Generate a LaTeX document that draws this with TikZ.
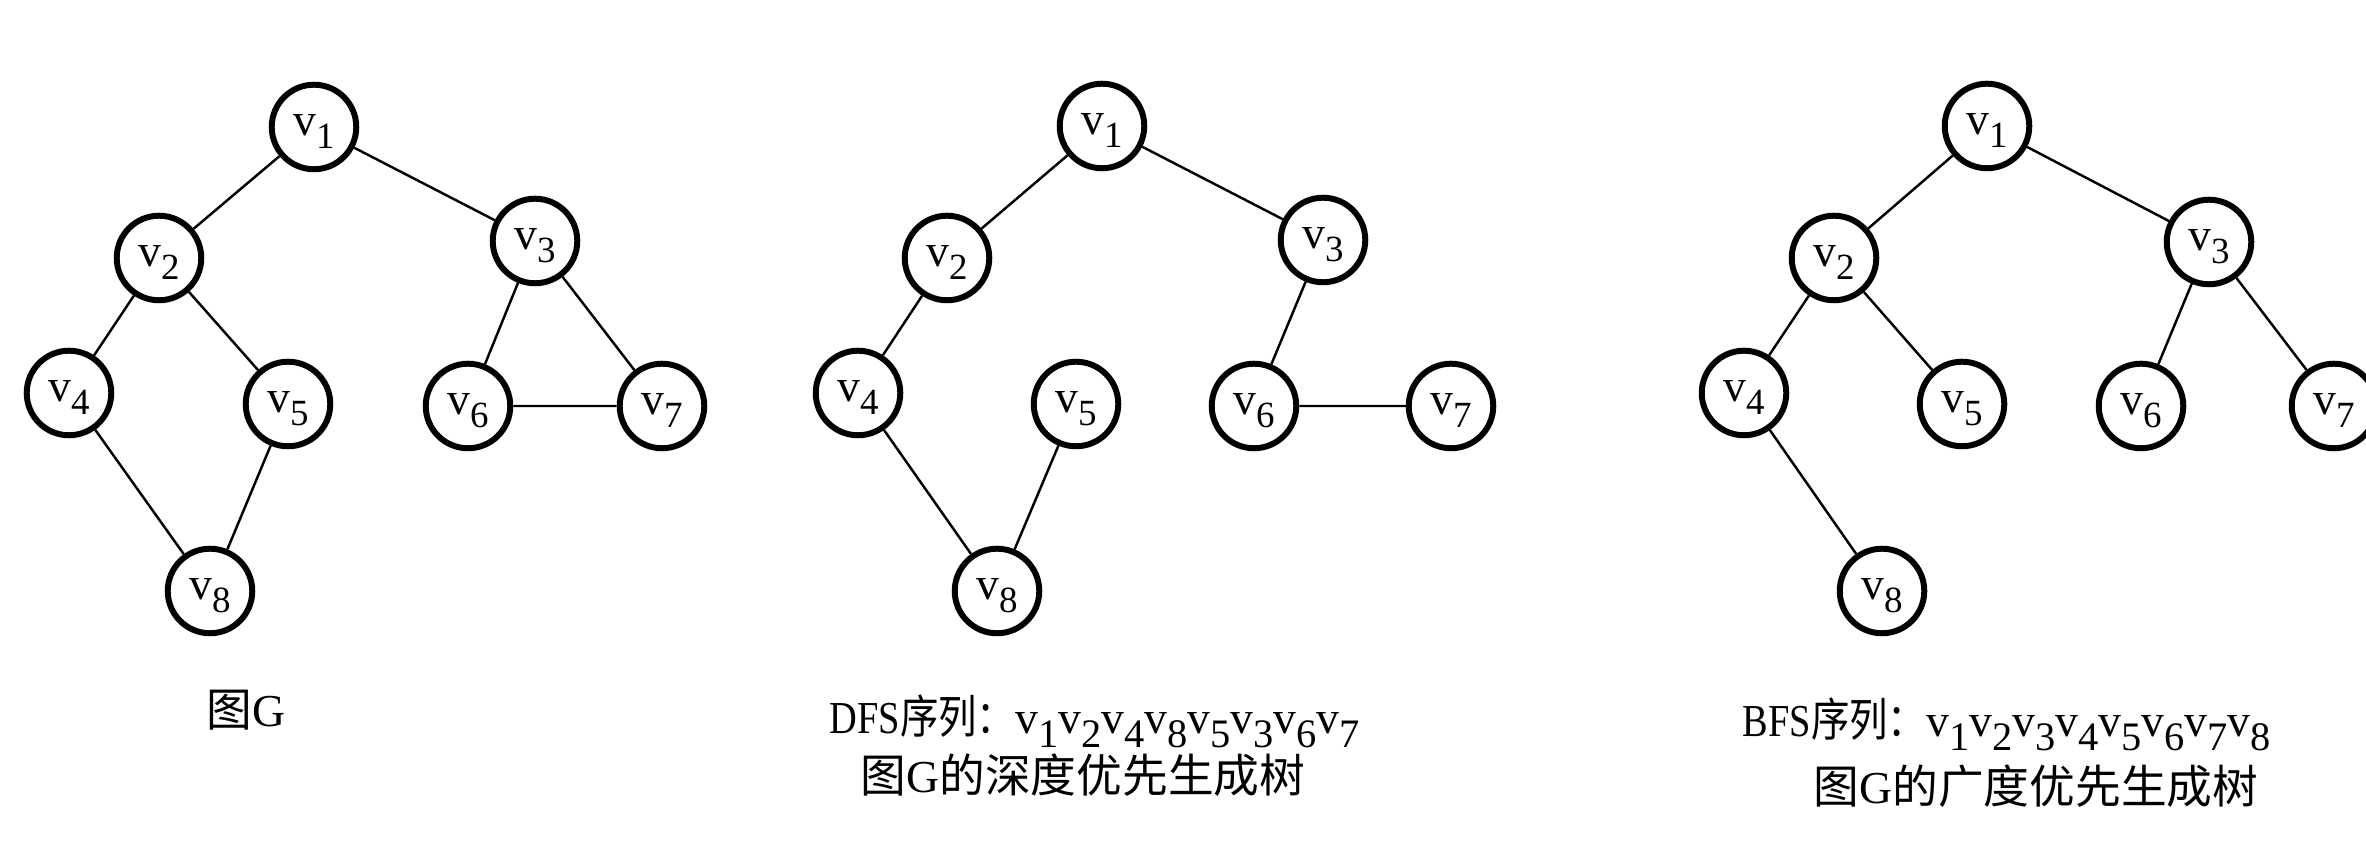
\documentclass[tikz,border=0pt]{standalone}
\usepackage{fontspec}
\setmainfont{Liberation Serif}
\newfontfamily\cjk{Noto Sans CJK SC}
\usetikzlibrary{shapes.geometric}
\newcommand\nv[1]{v\raisebox{-3.9pt}{\fontsize{10.5}{10.5}\selectfont #1}}
\newcommand\sv[1]{v\raisebox{-3.8pt}{\fontsize{11.5}{11.5}\selectfont #1}}
\tikzset{
  vert/.style={draw, line width=1.7pt, circle, minimum size=0.845cm, inner sep=0pt,
    text height=8.6pt, text depth=3.9pt, font=\fontsize{13}{14}\selectfont},
  link/.style={line width=0.7pt},
  captxt/.style={inner sep=0pt, font=\fontsize{13}{15}\selectfont},
  seqtxt/.style={inner sep=0pt, font=\fontsize{13}{15}\selectfont}
}
\begin{document}
\begin{tikzpicture}[x=0.01cm, y=-0.01cm]
\useasboundingbox (0,0) rectangle (2366,862);
% Graph G
\node[vert] (a1) at (314,127) {\nv1};
\node[vert] (a2) at (159,258) {\nv2};
\node[vert] (a3) at (535,241) {\nv3};
\node[vert] (a4) at (69,393) {\nv4};
\node[vert] (a5) at (288,404) {\nv5};
\node[vert] (a6) at (468,406) {\nv6};
\node[vert] (a7) at (662,406) {\nv7};
\node[vert] (a8) at (210,591) {\nv8};
\draw[link] (a1)--(a2) (a1)--(a3) (a2)--(a4) (a2)--(a5) (a4)--(a8) (a5)--(a8) (a3)--(a6) (a3)--(a7) (a6)--(a7);
% DFS tree
\node[vert] (b1) at (1102,126) {\nv1};
\node[vert] (b2) at (947,258) {\nv2};
\node[vert] (b3) at (1323,240) {\nv3};
\node[vert] (b4) at (858,393) {\nv4};
\node[vert] (b5) at (1076,404) {\nv5};
\node[vert] (b6) at (1254,406) {\nv6};
\node[vert] (b7) at (1451,406) {\nv7};
\node[vert] (b8) at (997,591) {\nv8};
\draw[link] (b1)--(b2) (b1)--(b3) (b2)--(b4) (b4)--(b8) (b8)--(b5) (b3)--(b6) (b6)--(b7);
% BFS tree
\node[vert] (c1) at (1987,126) {\nv1};
\node[vert] (c2) at (1834,258) {\nv2};
\node[vert] (c3) at (2209,242) {\nv3};
\node[vert] (c4) at (1744,393) {\nv4};
\node[vert] (c5) at (1962,404) {\nv5};
\node[vert] (c6) at (2141,406) {\nv6};
\node[vert] (c7) at (2334,406) {\nv7};
\node[vert] (c8) at (1882,591) {\nv8};
\draw[link] (c1)--(c2) (c1)--(c3) (c2)--(c4) (c2)--(c5) (c3)--(c6) (c3)--(c7) (c4)--(c8);
% captions
\node[captxt] (tg) at (246,710) {{\cjk 图}G};
\node[seqtxt, anchor=base west] (d1) at (829,734) {\scalebox{0.84}[1]{DFS{\cjk 序列：}}\sv1\sv2\sv4\sv8\sv5\sv3\sv6\sv7};
\node[captxt] (d2) at (1083,775) {{\cjk 图}G{\cjk 的深度优先生成树}};
\node[seqtxt, anchor=base west] (e1) at (1742,737) {\scalebox{0.84}[1]{BFS{\cjk 序列：}}\sv1\sv2\sv3\sv4\sv5\sv6\sv7\sv8};
\node[captxt] (e2) at (2036,786) {{\cjk 图}G{\cjk 的广度优先生成树}};
\end{tikzpicture}
\end{document}
